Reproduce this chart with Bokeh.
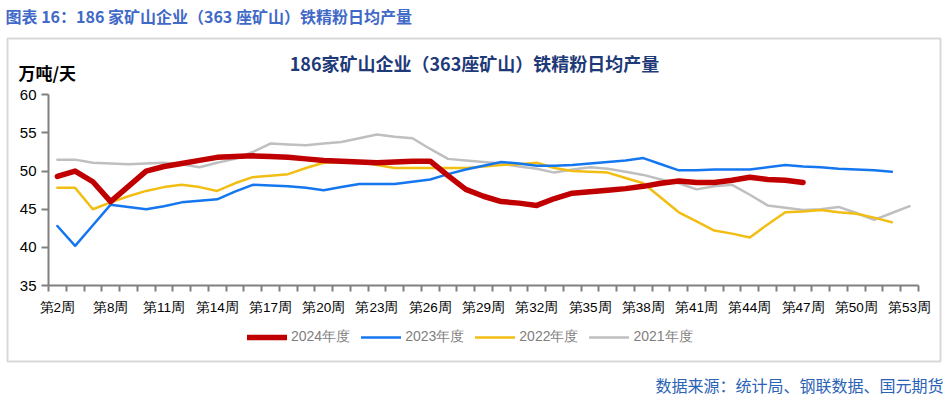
from bokeh.plotting import figure
from bokeh.models import FixedTicker, Label, BoxAnnotation, Legend, LegendItem, Range1d
from bokeh.embed import file_html
from bokeh.resources import INLINE

weeks = ["第2周", "第4周", "第6周", "第8周", "第9周", "第10周", "第11周", "第12周", "第13周",
         "第14周", "第15周", "第16周", "第17周", "第18周", "第19周", "第20周", "第21周",
         "第22周", "第23周", "第24周", "第25周", "第26周", "第27周", "第28周", "第29周",
         "第30周", "第31周", "第32周", "第33周", "第34周", "第35周", "第36周", "第37周",
         "第38周", "第39周", "第40周", "第41周", "第42周", "第43周", "第44周", "第45周",
         "第46周", "第47周", "第48周", "第49周", "第50周", "第51周", "第52周", "第53周"]

y2024 = [49.3, 50.0, 48.6, 46.0, 48.0, 50.0, 50.6, 51.0, 51.4, 51.8,
         51.9, 52.0, 51.9, 51.8, 51.6, 51.4, 51.3, 51.2, 51.1, 51.2,
         51.3, 51.3, 49.4, 47.6, 46.7, 46.0, 45.8, 45.5, 46.4, 47.1,
         47.3, 47.5, 47.7, 48.0, 48.4, 48.7, 48.5, 48.5, 48.8, 49.2,
         48.9, 48.8, 48.5]
y2023 = [42.8, 40.2, 42.9, 45.6, 45.3, 45.0, 45.4, 45.9, 46.1, 46.3,
         47.3, 48.2, 48.1, 48.0, 47.8, 47.5, 47.9, 48.3, 48.3, 48.3,
         48.6, 48.9, 49.6, 50.2, 50.7, 51.2, 51.0, 50.7, 50.7, 50.8,
         51.0, 51.2, 51.4, 51.7, 50.9, 50.1, 50.1, 50.2, 50.2, 50.2,
         50.5, 50.8, 50.6, 50.5, 50.3, 50.2, 50.1, 49.9]
y2022 = [47.8, 47.8, 45.0, 45.9, 46.7, 47.4, 47.9, 48.2, 47.9, 47.4,
         48.4, 49.2, 49.4, 49.6, 50.4, 51.1, 51.2, 51.2, 50.8, 50.4,
         50.4, 50.4, 50.4, 50.4, 50.6, 50.8, 50.9, 51.1, 50.4, 50.0,
         49.9, 49.8, 49.1, 48.4, 46.5, 44.6, 43.4, 42.2, 41.8, 41.3,
         43.0, 44.6, 44.7, 44.9, 44.6, 44.4, 43.9, 43.3]
y2021 = [51.5, 51.5, 51.1, 51.0, 50.9, 51.0, 51.1, 50.9, 50.5, 51.1,
         51.6, 52.5, 53.6, 53.5, 53.4, 53.6, 53.8, 54.3, 54.8, 54.5,
         54.3, 52.9, 51.6, 51.4, 51.2, 51.0, 50.6, 50.3, 49.8, 50.2,
         50.5, 50.3, 49.9, 49.5, 48.9, 48.4, 47.6, 48.0, 48.2, 46.9,
         45.5, 45.2, 44.9, 45.0, 45.3, 44.5, 43.6, 44.5, 45.4]

series_names = ["2024年度", "2023年度", "2022年度", "2021年度"]
series_values = [y2024, y2023, y2022, y2021]
series_colors = ["#C00000", "#1577F0", "#F2BE14", "#BFBFBF"]
series_widths = [5.5, 2.5, 2.5, 2.5]
y_ticks = [35, 40, 45, 50, 55, 60]

n = len(weeks)
xs = list(range(n))

W, H = 947, 399
# layout of the plotting area inside the canvas (pixels)
AX_LEFT, AX_RIGHT, AX_TOP, AX_BOTTOM = 48, 918, 94.3, 285
ppx = (AX_RIGHT - AX_LEFT) / n
ppy = (AX_BOTTOM - AX_TOP) / (y_ticks[-1] - y_ticks[0])
x0 = -0.5 - AX_LEFT / ppx
x1 = -0.5 + (W - AX_LEFT) / ppx
y1 = y_ticks[-1] + AX_TOP / ppy
y0 = y_ticks[0] - (H - AX_BOTTOM) / ppy

p = figure(width=W, height=H, x_range=Range1d(x0, x1), y_range=Range1d(y0, y1),
           output_backend="svg", toolbar_location=None,
           min_border_left=0, min_border_right=0, min_border_top=0, min_border_bottom=0)
p.title.visible = False
p.outline_line_color = None
p.grid.visible = False
p.background_fill_color = "white"
p.border_fill_color = "white"

axis_col = "#808080"
for ax in (p.xaxis[0], p.yaxis[0]):
    ax.axis_line_color = axis_col
    ax.axis_line_width = 2
    ax.major_tick_line_color = axis_col
    ax.major_tick_line_width = 2
    ax.minor_tick_line_color = axis_col
    ax.minor_tick_line_width = 2
    ax.major_label_text_color = "#000000"

xa = p.xaxis[0]
tick_idx = list(range(0, n, 3))
xa.fixed_location = y_ticks[0]
xa.bounds = (-0.5, n - 0.5)
xa.ticker = FixedTicker(ticks=tick_idx, minor_ticks=[i - 0.5 for i in range(n + 1)])
xa.major_label_overrides = {i: weeks[i] for i in tick_idx}
xa.major_tick_out = 0
xa.major_tick_in = 0
xa.minor_tick_out = 6
xa.minor_tick_in = 0
xa.major_label_standoff = 8
xa.major_label_text_font = "Liberation Sans"
xa.major_label_text_font_size = "13.5px"

ya = p.yaxis[0]
ya.fixed_location = -0.5
ya.bounds = (y_ticks[0], y_ticks[-1])
ya.ticker = FixedTicker(ticks=y_ticks)
ya.major_tick_out = 7
ya.major_tick_in = 0
ya.minor_tick_line_color = None
ya.major_label_standoff = 5
ya.major_label_text_font = "Liberation Sans"
ya.major_label_text_font_size = "15px"

renderers = []
for vals, col, w in reversed(list(zip(series_values, series_colors, series_widths))):
    r = p.line(xs[:len(vals)], vals, line_color=col, line_width=w,
               line_join="round", line_cap="round")
    renderers.append(r)
renderers = list(reversed(renderers))


def sx(page_x):
    return page_x


def sy(page_y):
    return H - page_y


legend = Legend(items=[LegendItem(label=nm, renderers=[r]) for nm, r in zip(series_names, renderers)],
                orientation="horizontal", location=(sx(247), sy(347)),
                glyph_width=40, glyph_height=20, label_standoff=4, spacing=11,
                padding=0, margin=0, border_line_color=None, background_fill_alpha=0,
                label_text_font="Liberation Sans", label_text_font_size="14px",
                label_text_color="#7F7F7F")
p.add_layout(legend, "center")

# outer frame of the chart
p.add_layout(BoxAnnotation(left=sx(7), right=sx(940), top=sy(38), bottom=sy(361),
                           left_units="screen", right_units="screen",
                           top_units="screen", bottom_units="screen",
                           fill_color=None, fill_alpha=0, line_color="#7F7F7F", line_width=2))

cjk = "Noto Sans CJK SC"
p.add_layout(Label(x=sx(5), y=sy(15), x_units="screen", y_units="screen",
                   text="图表 16：186 家矿山企业（363 座矿山）铁精粉日均产量",
                   text_font=cjk, text_font_style="bold", text_font_size="16px",
                   text_color="#4169C8", text_align="left", text_baseline="middle"))
p.add_layout(Label(x=sx(474), y=sy(62), x_units="screen", y_units="screen",
                   text="186家矿山企业（363座矿山）铁精粉日均产量",
                   text_font=cjk, text_font_style="bold", text_font_size="18px",
                   text_color="#1F3A78", text_align="center", text_baseline="middle"))
p.add_layout(Label(x=sx(18), y=sy(72), x_units="screen", y_units="screen",
                   text="万吨/天", text_font=cjk, text_font_style="bold",
                   text_font_size="17px", text_color="#000000",
                   text_align="left", text_baseline="middle"))
p.add_layout(Label(x=sx(943), y=sy(384), x_units="screen", y_units="screen",
                   text="数据来源：统计局、钢联数据、国元期货", text_font=cjk,
                   text_font_size="16px", text_color="#2A62B5",
                   text_align="right", text_baseline="middle"))

open("out.html", "w").write(file_html(p, INLINE))
